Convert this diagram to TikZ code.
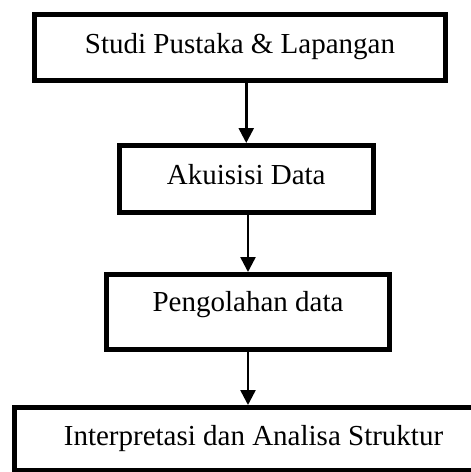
\documentclass[tikz,border=0pt]{standalone}
\usepackage{fontspec}
\setmainfont{Liberation Serif}
\usetikzlibrary{arrows.meta}
\begin{document}
\begin{tikzpicture}[x=1pt,y=-1pt,
  box/.style={draw=black, line width=5pt, rectangle, inner sep=0pt,
    text height=19pt, text depth=0pt,
    font=\fontsize{29}{34}\selectfont},
  conn/.style={draw=black, line width=2.5pt, -{Triangle[length=15pt,width=15pt]}}]
\useasboundingbox[fill=white] (0,0) rectangle (471,472);
\clip (0,0) rectangle (471,472);
\node[box, minimum width=411pt, minimum height=66pt] (b1) at (240,47.5) {\raisebox{4pt}{Studi Pustaka \& Lapangan}};
\node[box, minimum width=254.5pt, minimum height=67pt] (b2) at (246.25,179) {\raisebox{4.5pt}{Akuisisi Data}};
\node[box, minimum width=283pt, minimum height=75pt] (b3) at (248,312) {\raisebox{10pt}{Pengolahan data}};
\node[box, minimum width=478pt, minimum height=63pt] (b4) at (253.5,439) {\raisebox{3pt}{Interpretasi dan Analisa Struktur}};
\draw[conn] (b1.south -| b2.north) -- (b2.north);
\draw[conn] (b2.south -| b3.north) -- (b3.north);
\draw[conn] (b3.south) -- (b3.south |- b4.north);
\end{tikzpicture}
\end{document}
